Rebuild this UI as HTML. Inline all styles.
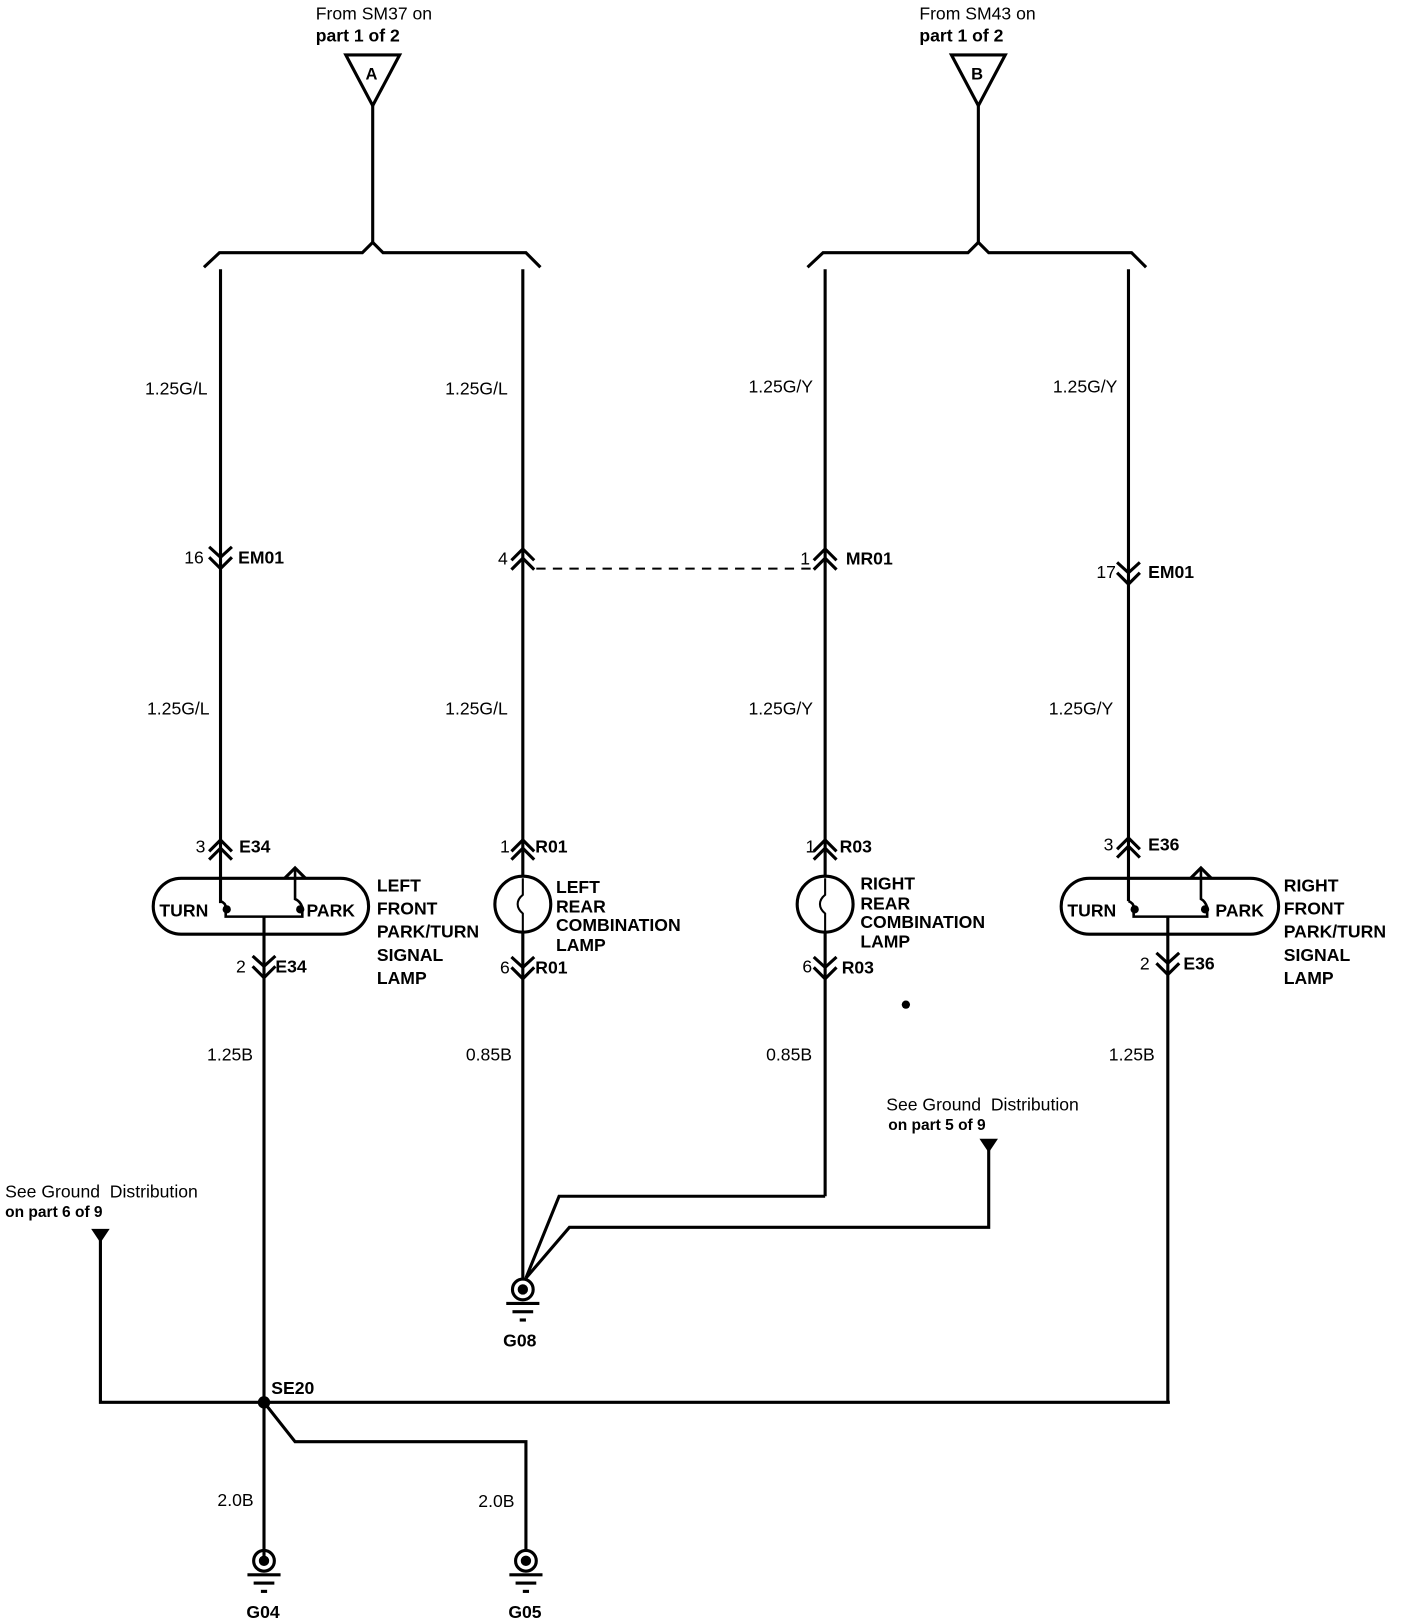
<!DOCTYPE html>
<html><head><meta charset="utf-8"><style>
html,body{margin:0;padding:0;background:#fff;}
svg{display:block}
text{font-family:"Liberation Sans",Arial,sans-serif;fill:#000;}
.r{font-size:17px;}
.b{font-size:17px;font-weight:bold;}
</style></head><body>
<svg width="1408" height="1624" viewBox="0 0 1360 1568" preserveAspectRatio="none" xmlns="http://www.w3.org/2000/svg">
<g fill="none" stroke="#000" stroke-width="3" stroke-linejoin="miter">
<polygon points="334,53 386,53 360,102"/>
<line x1="360" y1="102" x2="360" y2="236"/>
<path d="M197,258 L212,244 L350,244 L360,234 L370,244 L508,244 L522,258"/>
<polygon points="919,53 971,53 945,102"/>
<line x1="945" y1="102" x2="945" y2="236"/>
<path d="M780,258 L795,244 L935,244 L945,234 L955,244 L1093,244 L1107,258"/>

<line x1="213" y1="260" x2="213" y2="872"/>
<path d="M202,528 L213,538 L224,528 M202,538 L213,549 L224,538"/>
<path d="M202,822 L213,811 L224,822 M202,830 L213,819 L224,830"/>
<line x1="505" y1="260" x2="505" y2="846"/>
<path d="M494,541 L505,530 L516,541 M494,550 L505,539 L516,550"/>
<path d="M494,822 L505,811 L516,822 M494,830 L505,819 L516,830"/>
<line x1="797" y1="260" x2="797" y2="846"/>
<path d="M786,541 L797,530 L808,541 M786,550 L797,539 L808,550"/>
<path d="M786,822 L797,811 L808,822 M786,830 L797,819 L808,830"/>
<line x1="1090" y1="260" x2="1090" y2="870"/>
<path d="M1079,543 L1090,553 L1101,543 M1079,553 L1090,564 L1101,553"/>
<path d="M1079,820 L1090,809 L1101,820 M1079,828 L1090,817 L1101,828"/>

<line x1="518" y1="549" x2="786" y2="549" stroke-width="2" stroke-dasharray="9,7"/>

<rect x="148" y="848" width="208" height="54" rx="27" ry="27"/>
<path d="M213,870 Q218,872 218,876 M218,880 L218,885 L292,885 L292,880 M292,876 Q290,870 285,868 L285,840" stroke-width="2.5"/>
<path d="M275,848 L285,838 L295,848"/>
<circle cx="219" cy="878" r="2.5" fill="#000"/>
<circle cx="290" cy="878" r="2.5" fill="#000"/>
<line x1="255" y1="885" x2="255" y2="1510"/>
<path d="M244,923 L255,933 L266,923 M244,933 L255,944 L266,933"/>

<rect x="1025" y="848" width="210" height="54" rx="27" ry="27"/>
<path d="M1090,870 Q1095,872 1095,876 M1095,880 L1095,885 L1166,885 L1166,880 M1166,876 Q1164,870 1160,868 L1160,840" stroke-width="2.5"/>
<path d="M1150,848 L1160,838 L1170,848"/>
<circle cx="1096" cy="878" r="2.5" fill="#000"/>
<circle cx="1164" cy="878" r="2.5" fill="#000"/>
<line x1="1128" y1="885" x2="1128" y2="1354"/>
<path d="M1117,920 L1128,930 L1139,920 M1117,930 L1128,941 L1139,930"/>

<circle cx="505" cy="873" r="27"/>
<path d="M505,848 L505,864 Q500,868 500,873 Q500,878 505,882 L505,900" stroke-width="2"/>
<circle cx="797" cy="873" r="27"/>
<path d="M797,848 L797,864 Q792,868 792,873 Q792,878 797,882 L797,900" stroke-width="2"/>
<line x1="505" y1="900" x2="505" y2="1234"/>
<path d="M494,924 L505,934 L516,924 M494,934 L505,945 L516,934"/>
<line x1="797" y1="900" x2="797" y2="1155"/>
<path d="M786,924 L797,934 L808,924 M786,934 L797,945 L808,934"/>

<path d="M797,1155 L540,1155 L508,1234"/>
<path d="M955,1108 L955,1185 L550,1185 L508,1234"/>
<polygon points="947,1100 963,1100 955,1112" fill="#000" stroke-width="1"/>

<path d="M97,1195 L97,1354 L1130,1354"/>
<polygon points="89,1187 105,1187 97,1199" fill="#000" stroke-width="1"/>
<path d="M255,1354 L285,1392 L508,1392 L508,1498"/>
</g>
<circle cx="255" cy="1354" r="6" fill="#000"/>
<circle cx="875" cy="970" r="4" fill="#000"/>

<g fill="none" stroke="#000" stroke-width="3">
<circle cx="505" cy="1245" r="10"/>
<circle cx="255" cy="1507" r="10"/>
<circle cx="508" cy="1507" r="10"/>
</g>
<g fill="#000">
<circle cx="505" cy="1245" r="5"/>
<circle cx="255" cy="1507" r="5"/>
<circle cx="508" cy="1507" r="5"/>
<rect x="489" y="1257" width="32" height="3"/><rect x="495" y="1265" width="20" height="3"/><rect x="502" y="1273" width="6" height="3"/>
<rect x="239" y="1519" width="32" height="3"/><rect x="245" y="1527" width="20" height="3"/><rect x="252" y="1535" width="6" height="3"/>
<rect x="492" y="1519" width="32" height="3"/><rect x="498" y="1527" width="20" height="3"/><rect x="505" y="1535" width="6" height="3"/>
</g>

<text class="r" x="305" y="19">From SM37 on</text>
<text class="b" x="305" y="40">part 1 of 2</text>
<text class="b" x="353" y="77" style="font-size:16px">A</text>
<text class="r" x="888" y="19">From SM43 on</text>
<text class="b" x="888" y="40">part 1 of 2</text>
<text class="b" x="938" y="77" style="font-size:16px">B</text>

<text class="r" x="140" y="381">1.25G/L</text>
<text class="r" x="430" y="381">1.25G/L</text>
<text class="r" x="723" y="379">1.25G/Y</text>
<text class="r" x="1017" y="379">1.25G/Y</text>
<text class="r" x="142" y="690">1.25G/L</text>
<text class="r" x="430" y="690">1.25G/L</text>
<text class="r" x="723" y="690">1.25G/Y</text>
<text class="r" x="1013" y="690">1.25G/Y</text>

<text class="r" x="178" y="544">16</text><text class="b" x="230" y="544">EM01</text>
<text class="r" x="481" y="545">4</text>
<text class="r" x="773" y="545">1</text><text class="b" x="817" y="545">MR01</text>
<text class="r" x="1059" y="558">17</text><text class="b" x="1109" y="558">EM01</text>

<text class="r" x="189" y="823">3</text><text class="b" x="231" y="823">E34</text>
<text class="r" x="483" y="823">1</text><text class="b" x="517" y="823">R01</text>
<text class="r" x="778" y="823">1</text><text class="b" x="811" y="823">R03</text>
<text class="r" x="1066" y="821">3</text><text class="b" x="1109" y="821">E36</text>

<text class="b" x="154" y="885">TURN</text><text class="b" x="296" y="885">PARK</text>
<text class="b" x="1031" y="885">TURN</text><text class="b" x="1174" y="885">PARK</text>

<text class="b" x="364" y="861">LEFT</text>
<text class="b" x="364" y="883">FRONT</text>
<text class="b" x="364" y="905">PARK/TURN</text>
<text class="b" x="364" y="928">SIGNAL</text>
<text class="b" x="364" y="950">LAMP</text>

<text class="b" x="537" y="862">LEFT</text>
<text class="b" x="537" y="881">REAR</text>
<text class="b" x="537" y="899">COMBINATION</text>
<text class="b" x="537" y="918">LAMP</text>

<text class="b" x="831" y="859">RIGHT</text>
<text class="b" x="831" y="878">REAR</text>
<text class="b" x="831" y="896">COMBINATION</text>
<text class="b" x="831" y="915">LAMP</text>

<text class="b" x="1240" y="861">RIGHT</text>
<text class="b" x="1240" y="883">FRONT</text>
<text class="b" x="1240" y="905">PARK/TURN</text>
<text class="b" x="1240" y="928">SIGNAL</text>
<text class="b" x="1240" y="950">LAMP</text>

<text class="r" x="228" y="939">2</text><text class="b" x="266" y="939">E34</text>
<text class="r" x="483" y="940">6</text><text class="b" x="517" y="940">R01</text>
<text class="r" x="775" y="939">6</text><text class="b" x="813" y="940">R03</text>
<text class="r" x="1101" y="936">2</text><text class="b" x="1143" y="936">E36</text>

<text class="r" x="200" y="1024">1.25B</text>
<text class="r" x="450" y="1024">0.85B</text>
<text class="r" x="740" y="1024">0.85B</text>
<text class="r" x="1071" y="1024">1.25B</text>

<text class="r" x="856" y="1072">See Ground &#160;Distribution</text>
<text class="b" x="858" y="1091" style="font-size:15px">on part 5 of 9</text>
<text class="r" x="5" y="1156">See Ground &#160;Distribution</text>
<text class="b" x="5" y="1175" style="font-size:15px">on part 6 of 9</text>

<text class="b" x="486" y="1300">G08</text>
<text class="b" x="262" y="1346">SE20</text>
<text class="r" x="210" y="1454">2.0B</text>
<text class="r" x="462" y="1455">2.0B</text>
<text class="b" x="238" y="1562">G04</text>
<text class="b" x="491" y="1562">G05</text>
</svg>
</body></html>
